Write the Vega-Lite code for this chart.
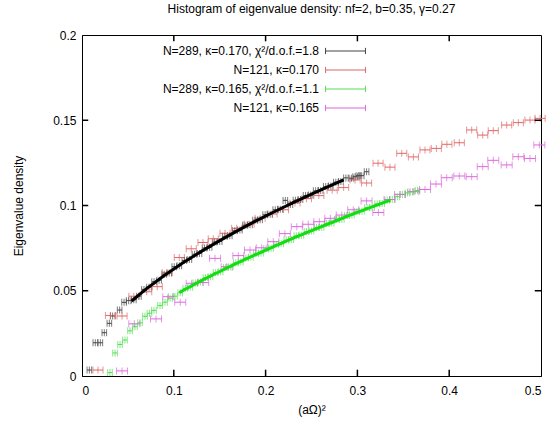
{
  "$schema": "https://vega.github.io/schema/vega-lite/v6.json",
  "width": 459,
  "height": 341,
  "autosize": {"type": "none"},
  "padding": {"left": 82, "top": 35, "right": 10, "bottom": 50},
  "title": {"text": "Histogram of eigenvalue density: nf=2, b=0.35, γ=0.27", "fontSize": 12, "fontWeight": "normal", "anchor": "middle", "offset": 13, "color": "black"},
  "datasets": {
    "pts": [
      {"s":"B","x":0.008,"y":0.0035,"e":0.0025},
      {"s":"B","x":0.0145,"y":0.0195,"e":0.0025},
      {"s":"B","x":0.020,"y":0.0195,"e":0.0025},
      {"s":"B","x":0.0243,"y":0.0254,"e":0.0025},
      {"s":"B","x":0.0298,"y":0.0309,"e":0.0025},
      {"s":"B","x":0.0334,"y":0.0352,"e":0.0025},
      {"s":"B","x":0.041,"y":0.0387,"e":0.0025},
      {"s":"B","x":0.0458,"y":0.0432,"e":0.0025},
      {"s":"B","x":0.0508,"y":0.0442,"e":0.0025},
      {"s":"B","x":0.0565,"y":0.0447,"e":0.0025},
      {"s":"B","x":0.062,"y":0.0468,"e":0.0025},
      {"s":"B","x":0.0675,"y":0.0508,"e":0.0025},
      {"s":"B","x":0.073,"y":0.0520,"e":0.0025},
      {"s":"B","x":0.0785,"y":0.0553,"e":0.0025},
      {"s":"B","x":0.084,"y":0.0562,"e":0.0025},
      {"s":"B","x":0.0895,"y":0.0597,"e":0.0025},
      {"s":"B","x":0.095,"y":0.0604,"e":0.0025},
      {"s":"B","x":0.1005,"y":0.0641,"e":0.0025},
      {"s":"B","x":0.106,"y":0.0646,"e":0.0025},
      {"s":"B","x":0.1115,"y":0.0677,"e":0.0025},
      {"s":"B","x":0.117,"y":0.0684,"e":0.0025},
      {"s":"B","x":0.1225,"y":0.0714,"e":0.0025},
      {"s":"B","x":0.128,"y":0.0719,"e":0.0025},
      {"s":"B","x":0.1335,"y":0.0751,"e":0.0025},
      {"s":"B","x":0.139,"y":0.0755,"e":0.0025},
      {"s":"B","x":0.1445,"y":0.0786,"e":0.0025},
      {"s":"B","x":0.150,"y":0.0789,"e":0.0025},
      {"s":"B","x":0.1555,"y":0.0819,"e":0.0025},
      {"s":"B","x":0.161,"y":0.0823,"e":0.0025},
      {"s":"B","x":0.1665,"y":0.0852,"e":0.0025},
      {"s":"B","x":0.172,"y":0.0856,"e":0.0025},
      {"s":"B","x":0.1775,"y":0.0884,"e":0.0025},
      {"s":"B","x":0.183,"y":0.0887,"e":0.0025},
      {"s":"B","x":0.1885,"y":0.0914,"e":0.0025},
      {"s":"B","x":0.194,"y":0.0917,"e":0.0025},
      {"s":"B","x":0.1995,"y":0.0946,"e":0.0025},
      {"s":"B","x":0.205,"y":0.0948,"e":0.0025},
      {"s":"B","x":0.2105,"y":0.0975,"e":0.0025},
      {"s":"B","x":0.216,"y":0.0978,"e":0.0025},
      {"s":"B","x":0.2215,"y":0.1030,"e":0.0025},
      {"s":"B","x":0.227,"y":0.1006,"e":0.0025},
      {"s":"B","x":0.2325,"y":0.1031,"e":0.0025},
      {"s":"B","x":0.238,"y":0.1035,"e":0.0025},
      {"s":"B","x":0.2435,"y":0.1058,"e":0.0025},
      {"s":"B","x":0.249,"y":0.1061,"e":0.0025},
      {"s":"B","x":0.2545,"y":0.1086,"e":0.0025},
      {"s":"B","x":0.260,"y":0.1088,"e":0.0025},
      {"s":"B","x":0.2655,"y":0.1112,"e":0.0025},
      {"s":"B","x":0.271,"y":0.1114,"e":0.0025},
      {"s":"B","x":0.2765,"y":0.1137,"e":0.0025},
      {"s":"B","x":0.282,"y":0.1141,"e":0.0025},
      {"s":"B","x":0.2875,"y":0.1162,"e":0.0025},
      {"s":"B","x":0.2935,"y":0.1160,"e":0.0025},
      {"s":"B","x":0.2975,"y":0.1169,"e":0.0025},
      {"s":"B","x":0.301,"y":0.1175,"e":0.0025},
      {"s":"B","x":0.3047,"y":0.1175,"e":0.0025},
      {"s":"B","x":0.310,"y":0.1198,"e":0.0025},
      {"s":"R","x":0.0174,"y":0.0035,"e":0.0055},
      {"s":"R","x":0.031,"y":0.0355,"e":0.0055},
      {"s":"R","x":0.0436,"y":0.0352,"e":0.0055},
      {"s":"R","x":0.0565,"y":0.0468,"e":0.0055},
      {"s":"R","x":0.0705,"y":0.0494,"e":0.0055},
      {"s":"R","x":0.082,"y":0.0524,"e":0.0055},
      {"s":"R","x":0.0929,"y":0.0606,"e":0.0055},
      {"s":"R","x":0.106,"y":0.0695,"e":0.0055},
      {"s":"R","x":0.119,"y":0.0746,"e":0.0055},
      {"s":"R","x":0.1318,"y":0.0783,"e":0.0055},
      {"s":"R","x":0.143,"y":0.0805,"e":0.0055},
      {"s":"R","x":0.1558,"y":0.0837,"e":0.0055},
      {"s":"R","x":0.1685,"y":0.0866,"e":0.0055},
      {"s":"R","x":0.182,"y":0.0890,"e":0.0055},
      {"s":"R","x":0.194,"y":0.0925,"e":0.0055},
      {"s":"R","x":0.207,"y":0.0950,"e":0.0055},
      {"s":"R","x":0.2195,"y":0.0975,"e":0.0055},
      {"s":"R","x":0.232,"y":0.1015,"e":0.0055},
      {"s":"R","x":0.2445,"y":0.1040,"e":0.0055},
      {"s":"R","x":0.258,"y":0.1058,"e":0.0055},
      {"s":"R","x":0.2725,"y":0.1090,"e":0.0055},
      {"s":"R","x":0.285,"y":0.1105,"e":0.0055},
      {"s":"R","x":0.2975,"y":0.1150,"e":0.0055},
      {"s":"R","x":0.310,"y":0.1132,"e":0.0055},
      {"s":"R","x":0.3225,"y":0.1248,"e":0.0055},
      {"s":"R","x":0.3355,"y":0.1225,"e":0.0055},
      {"s":"R","x":0.3483,"y":0.1306,"e":0.0055},
      {"s":"R","x":0.361,"y":0.1285,"e":0.0055},
      {"s":"R","x":0.3736,"y":0.1326,"e":0.0055},
      {"s":"R","x":0.386,"y":0.1335,"e":0.0055},
      {"s":"R","x":0.3975,"y":0.1359,"e":0.0055},
      {"s":"R","x":0.411,"y":0.1368,"e":0.0055},
      {"s":"R","x":0.4245,"y":0.1443,"e":0.0055},
      {"s":"R","x":0.4365,"y":0.1413,"e":0.0055},
      {"s":"R","x":0.448,"y":0.1439,"e":0.0055},
      {"s":"R","x":0.4626,"y":0.1472,"e":0.0055},
      {"s":"R","x":0.4753,"y":0.1486,"e":0.0055},
      {"s":"R","x":0.488,"y":0.1501,"e":0.0055},
      {"s":"R","x":0.499,"y":0.1511,"e":0.0055},
      {"s":"G","x":0.0305,"y":0.002,"e":0.0025},
      {"s":"G","x":0.036,"y":0.0135,"e":0.0025},
      {"s":"G","x":0.0414,"y":0.0185,"e":0.0025},
      {"s":"G","x":0.0468,"y":0.0211,"e":0.0025},
      {"s":"G","x":0.0523,"y":0.0265,"e":0.0025},
      {"s":"G","x":0.0577,"y":0.0289,"e":0.0025},
      {"s":"G","x":0.0632,"y":0.0312,"e":0.0025},
      {"s":"G","x":0.0686,"y":0.0350,"e":0.0025},
      {"s":"G","x":0.0735,"y":0.0368,"e":0.0025},
      {"s":"G","x":0.0784,"y":0.0385,"e":0.0025},
      {"s":"G","x":0.085,"y":0.0413,"e":0.0025},
      {"s":"G","x":0.0904,"y":0.0433,"e":0.0025},
      {"s":"G","x":0.0959,"y":0.0456,"e":0.0025},
      {"s":"G","x":0.1013,"y":0.0468,"e":0.0025},
      {"s":"G","x":0.107,"y":0.0488,"e":0.0025},
      {"s":"G","x":0.1125,"y":0.0514,"e":0.0025},
      {"s":"G","x":0.118,"y":0.0521,"e":0.0025},
      {"s":"G","x":0.1235,"y":0.0546,"e":0.0025},
      {"s":"G","x":0.129,"y":0.0552,"e":0.0025},
      {"s":"G","x":0.1345,"y":0.0577,"e":0.0025},
      {"s":"G","x":0.140,"y":0.0582,"e":0.0025},
      {"s":"G","x":0.1455,"y":0.0607,"e":0.0025},
      {"s":"G","x":0.151,"y":0.0611,"e":0.0025},
      {"s":"G","x":0.1565,"y":0.0636,"e":0.0025},
      {"s":"G","x":0.162,"y":0.0640,"e":0.0025},
      {"s":"G","x":0.1675,"y":0.0664,"e":0.0025},
      {"s":"G","x":0.173,"y":0.0668,"e":0.0025},
      {"s":"G","x":0.1785,"y":0.0692,"e":0.0025},
      {"s":"G","x":0.184,"y":0.0696,"e":0.0025},
      {"s":"G","x":0.1895,"y":0.0719,"e":0.0025},
      {"s":"G","x":0.195,"y":0.0722,"e":0.0025},
      {"s":"G","x":0.2005,"y":0.0746,"e":0.0025},
      {"s":"G","x":0.206,"y":0.0749,"e":0.0025},
      {"s":"G","x":0.2115,"y":0.0772,"e":0.0025},
      {"s":"G","x":0.217,"y":0.0775,"e":0.0025},
      {"s":"G","x":0.2225,"y":0.0797,"e":0.0025},
      {"s":"G","x":0.228,"y":0.0800,"e":0.0025},
      {"s":"G","x":0.2335,"y":0.0822,"e":0.0025},
      {"s":"G","x":0.239,"y":0.0825,"e":0.0025},
      {"s":"G","x":0.2445,"y":0.0847,"e":0.0025},
      {"s":"G","x":0.250,"y":0.0850,"e":0.0025},
      {"s":"G","x":0.2555,"y":0.0871,"e":0.0025},
      {"s":"G","x":0.261,"y":0.0873,"e":0.0025},
      {"s":"G","x":0.2665,"y":0.0895,"e":0.0025},
      {"s":"G","x":0.272,"y":0.0897,"e":0.0025},
      {"s":"G","x":0.2775,"y":0.0918,"e":0.0025},
      {"s":"G","x":0.283,"y":0.0920,"e":0.0025},
      {"s":"G","x":0.2885,"y":0.0942,"e":0.0025},
      {"s":"G","x":0.294,"y":0.0944,"e":0.0025},
      {"s":"G","x":0.2995,"y":0.0965,"e":0.0025},
      {"s":"G","x":0.305,"y":0.0966,"e":0.0025},
      {"s":"G","x":0.3105,"y":0.0988,"e":0.0025},
      {"s":"G","x":0.316,"y":0.0989,"e":0.0025},
      {"s":"G","x":0.3215,"y":0.1010,"e":0.0025},
      {"s":"G","x":0.327,"y":0.1012,"e":0.0025},
      {"s":"G","x":0.3325,"y":0.1032,"e":0.0025},
      {"s":"G","x":0.338,"y":0.1035,"e":0.0025},
      {"s":"G","x":0.3435,"y":0.1052,"e":0.0025},
      {"s":"G","x":0.349,"y":0.1065,"e":0.0025},
      {"s":"G","x":0.3545,"y":0.1074,"e":0.0025},
      {"s":"G","x":0.360,"y":0.1080,"e":0.0025},
      {"s":"G","x":0.3655,"y":0.1088,"e":0.0025},
      {"s":"M","x":0.0436,"y":0.003,"e":0.006},
      {"s":"M","x":0.057,"y":0.0306,"e":0.006},
      {"s":"M","x":0.0806,"y":0.0335,"e":0.006},
      {"s":"M","x":0.094,"y":0.0465,"e":0.006},
      {"s":"M","x":0.107,"y":0.0433,"e":0.006},
      {"s":"M","x":0.1195,"y":0.0544,"e":0.006},
      {"s":"M","x":0.132,"y":0.0548,"e":0.006},
      {"s":"M","x":0.1449,"y":0.0690,"e":0.006},
      {"s":"M","x":0.1576,"y":0.0641,"e":0.006},
      {"s":"M","x":0.1703,"y":0.0706,"e":0.006},
      {"s":"M","x":0.183,"y":0.0739,"e":0.006},
      {"s":"M","x":0.1958,"y":0.0752,"e":0.006},
      {"s":"M","x":0.2084,"y":0.0788,"e":0.006},
      {"s":"M","x":0.221,"y":0.0835,"e":0.006},
      {"s":"M","x":0.234,"y":0.0876,"e":0.006},
      {"s":"M","x":0.2465,"y":0.0890,"e":0.006},
      {"s":"M","x":0.2585,"y":0.0905,"e":0.006},
      {"s":"M","x":0.2705,"y":0.0925,"e":0.006},
      {"s":"M","x":0.283,"y":0.0944,"e":0.006},
      {"s":"M","x":0.2955,"y":0.0975,"e":0.006},
      {"s":"M","x":0.310,"y":0.1027,"e":0.006},
      {"s":"M","x":0.3228,"y":0.0959,"e":0.006},
      {"s":"M","x":0.335,"y":0.1035,"e":0.006},
      {"s":"M","x":0.3464,"y":0.1065,"e":0.006},
      {"s":"M","x":0.361,"y":0.1081,"e":0.006},
      {"s":"M","x":0.3736,"y":0.1094,"e":0.006},
      {"s":"M","x":0.3856,"y":0.1126,"e":0.006},
      {"s":"M","x":0.3973,"y":0.1163,"e":0.006},
      {"s":"M","x":0.411,"y":0.1173,"e":0.006},
      {"s":"M","x":0.4245,"y":0.1169,"e":0.006},
      {"s":"M","x":0.4365,"y":0.1228,"e":0.006},
      {"s":"M","x":0.448,"y":0.1265,"e":0.006},
      {"s":"M","x":0.4626,"y":0.1238,"e":0.006},
      {"s":"M","x":0.4753,"y":0.1286,"e":0.006},
      {"s":"M","x":0.488,"y":0.1276,"e":0.006},
      {"s":"M","x":0.4982,"y":0.1355,"e":0.006}
    ],
    "fitB": [
      {"x":0.054,"y":0.0440},{"x":0.07,"y":0.0511},{"x":0.09,"y":0.0591},{"x":0.11,"y":0.0664},
      {"x":0.13,"y":0.0731},{"x":0.15,"y":0.0794},{"x":0.17,"y":0.0854},{"x":0.19,"y":0.0911},
      {"x":0.21,"y":0.0965},{"x":0.23,"y":0.1017},{"x":0.25,"y":0.1067},{"x":0.27,"y":0.1115},
      {"x":0.285,"y":0.1150}
    ],
    "fitG": [
      {"x":0.106,"y":0.0490},{"x":0.13,"y":0.0559},{"x":0.15,"y":0.0613},{"x":0.17,"y":0.0665},
      {"x":0.19,"y":0.0714},{"x":0.21,"y":0.0762},{"x":0.23,"y":0.0808},{"x":0.25,"y":0.0853},
      {"x":0.27,"y":0.0896},{"x":0.29,"y":0.0939},{"x":0.31,"y":0.0980},{"x":0.336,"y":0.1032}
    ],
    "xt": [{"v":0.1},{"v":0.2},{"v":0.3},{"v":0.4}],
    "yt": [{"v":0.05},{"v":0.1},{"v":0.15}]
  },
  "resolve": {"axis": {"x": "independent", "y": "independent"}},
  "layer": [
    {
      "data": {"name": "pts"},
      "mark": {"type": "errorbar", "ticks": {"size": 7}, "thickness": 1},
      "encoding": {
        "x": {"field": "x", "type": "quantitative", "scale": {"domain": [0, 0.5], "nice": false},
              "axis": {"orient": "bottom", "title": "(aΩ)²", "values": [0, 0.1, 0.2, 0.3, 0.4, 0.5], "format": "~g", "ticks": false, "labelPadding": 9, "titlePadding": 8}},
        "xError": {"field": "e"},
        "y": {"field": "y", "type": "quantitative", "scale": {"domain": [0, 0.2], "nice": false},
              "axis": {"orient": "left", "title": "Eigenvalue density", "values": [0, 0.05, 0.1, 0.15, 0.2], "format": "~g", "ticks": false, "labelPadding": 6, "titlePadding": 27}},
        "color": {"field": "s", "type": "nominal",
                  "scale": {"domain": ["B", "R", "G", "M"], "range": ["#444444", "#e06666", "#55dd55", "#dd66dd"]},
                  "legend": {"title": null, "orient": "none", "legendX": 253.5, "legendY": 6, "padding": 0,
                             "symbolType": "M-2.1,0H2.1M-2.1,-0.33V0.33M2.1,-0.33V0.33", "symbolSize": 361, "symbolStrokeWidth": 1,
                             "rowPadding": 3, "labelAlign": "right", "labelOffset": -36.5, "labelLimit": 400,
                             "labelFontSize": 12, "labelColor": "black",
                             "labelExpr": "datum.label == 'B' ? 'N=289, κ=0.170, χ²/d.o.f.=1.8' : datum.label == 'R' ? 'N=121, κ=0.170' : datum.label == 'G' ? 'N=289, κ=0.165, χ²/d.o.f.=1.1' : 'N=121, κ=0.165'",
                             "encode": {"symbols": {"update": {"stroke": {"scale": "color", "field": "value"}, "fill": {"value": "transparent"}, "strokeWidth": {"value": 1}, "opacity": {"value": 1}}}}}}
      }
    },
    {
      "data": {"name": "pts"},
      "mark": {"type": "tick", "orient": "vertical", "size": 7, "thickness": 1},
      "encoding": {
        "x": {"field": "x", "type": "quantitative", "axis": null},
        "y": {"field": "y", "type": "quantitative", "axis": null},
        "color": {"field": "s", "type": "nominal"}
      }
    },
    {
      "data": {"name": "fitB"},
      "mark": {"type": "line", "color": "#000000", "strokeWidth": 3},
      "encoding": {
        "x": {"field": "x", "type": "quantitative", "axis": null},
        "y": {"field": "y", "type": "quantitative", "axis": null}
      }
    },
    {
      "data": {"name": "fitG"},
      "mark": {"type": "line", "color": "#11dd11", "strokeWidth": 3},
      "encoding": {
        "x": {"field": "x", "type": "quantitative", "axis": null},
        "y": {"field": "y", "type": "quantitative", "axis": null}
      }
    },
    {
      "data": {"name": "xt"},
      "mark": {"type": "rule", "color": "black", "strokeWidth": 1.5},
      "encoding": {
        "x": {"field": "v", "type": "quantitative", "axis": null},
        "y": {"datum": 0, "type": "quantitative", "axis": null},
        "y2": {"datum": 0.0037}
      }
    },
    {
      "data": {"name": "xt"},
      "mark": {"type": "rule", "color": "black", "strokeWidth": 1.5},
      "encoding": {
        "x": {"field": "v", "type": "quantitative", "axis": null},
        "y": {"datum": 0.2, "type": "quantitative", "axis": null},
        "y2": {"datum": 0.1963}
      }
    },
    {
      "data": {"name": "yt"},
      "mark": {"type": "rule", "color": "black", "strokeWidth": 1.5},
      "encoding": {
        "y": {"field": "v", "type": "quantitative", "axis": null},
        "x": {"datum": 0, "type": "quantitative", "axis": null},
        "x2": {"datum": 0.0068}
      }
    },
    {
      "data": {"name": "yt"},
      "mark": {"type": "rule", "color": "black", "strokeWidth": 1.5},
      "encoding": {
        "y": {"field": "v", "type": "quantitative", "axis": null},
        "x": {"datum": 0.5, "type": "quantitative", "axis": null},
        "x2": {"datum": 0.4932}
      }
    }
  ],
  "config": {
    "font": "Liberation Sans",
    "view": {"stroke": "black", "strokeWidth": 1},
    "axis": {"grid": false, "domainColor": "black", "labelFontSize": 12, "labelColor": "black",
             "titleFontSize": 12, "titleFontWeight": "normal", "titleColor": "black"}
  }
}
